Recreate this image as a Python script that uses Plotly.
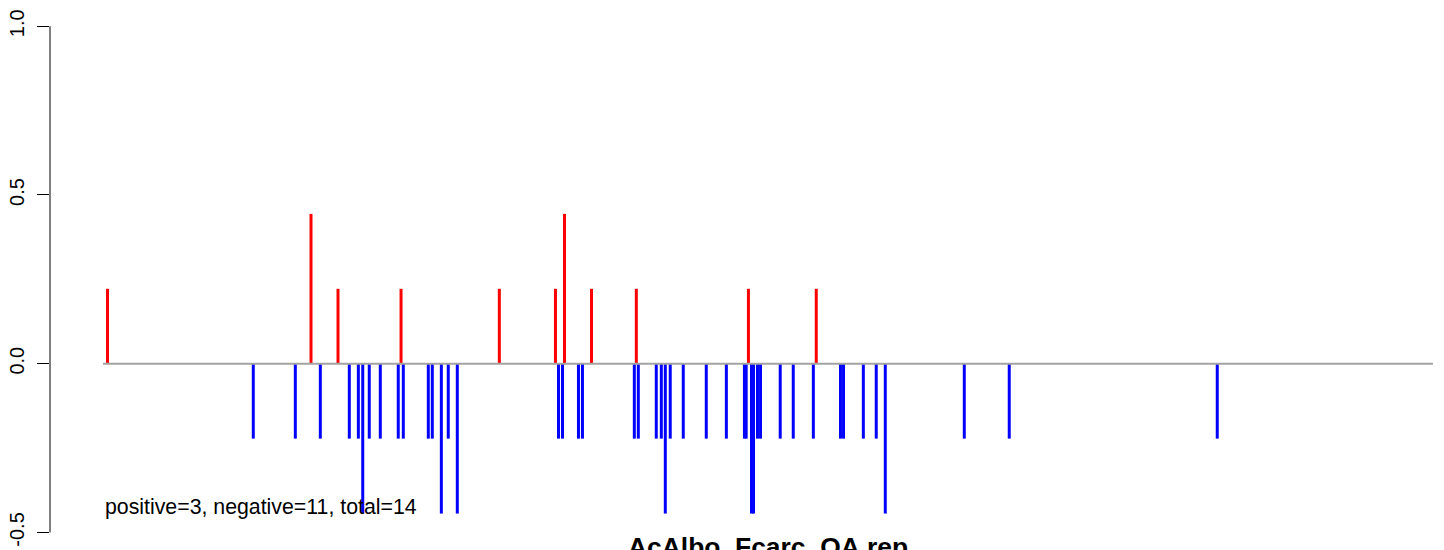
import plotly.graph_objects as go

# Positions along the ranked list (line spans 0..1000) and scores
pos_x = [3.4, 156.4, 176.7, 224.1, 298.0, 340.2, 347.0, 367.3, 401.0, 485.3, 536.3]
pos_y = [0.222, 0.444, 0.222, 0.222, 0.222, 0.222, 0.444, 0.222, 0.222, 0.222, 0.222]

neg_x = [113.0, 144.6, 163.4, 185.2, 192.0, 195.3, 200.2, 208.5, 222.0, 225.8,
         244.6, 247.6, 254.4, 259.6, 266.4, 342.5, 345.5, 357.5, 360.5, 399.5,
         402.5, 416.0, 419.8, 422.8, 426.5, 436.3, 453.6, 468.7, 482.3, 483.6,
         487.6, 489.1, 492.1, 494.4, 509.2, 519.0, 534.1, 554.5, 556.8, 571.7,
         581.4, 588.2, 647.6, 681.4, 837.8]
neg_y = [-0.222, -0.222, -0.222, -0.222, -0.222, -0.444, -0.222, -0.222, -0.222, -0.222,
         -0.222, -0.222, -0.444, -0.222, -0.444, -0.222, -0.222, -0.222, -0.222, -0.222,
         -0.222, -0.222, -0.222, -0.444, -0.222, -0.222, -0.222, -0.222, -0.222, -0.222,
         -0.444, -0.444, -0.222, -0.222, -0.222, -0.222, -0.222, -0.222, -0.222, -0.222,
         -0.222, -0.444, -0.222, -0.222, -0.222]

line_x = [0, 1000]
line_y = [0, 0]

y_tickvals = [-0.5, 0.0, 0.5, 1.0]
y_ticktext = ["-0.5", "0.0", "0.5", "1.0"]

summary_text = "positive=3, negative=11, total=14"
title_text = "AcAlbo_Fcarc_OA.rep"

FONT = "Liberation Sans, Arial, Helvetica, sans-serif"

fig = go.Figure()
fig.add_trace(go.Scatter(x=line_x, y=line_y, mode="lines",
                         line=dict(color="#a3a3a3", width=2), hoverinfo="skip"))
fig.add_trace(go.Bar(x=pos_x, y=pos_y, width=2.25, marker=dict(color="#ff0000", line=dict(width=0))))
fig.add_trace(go.Bar(x=neg_x, y=neg_y, width=2.25, marker=dict(color="#0000ff", line=dict(width=0))))

fig.update_layout(
    width=1436, height=542,
    margin=dict(l=42, r=0, t=0, b=0),
    paper_bgcolor="white", plot_bgcolor="white",
    showlegend=False, barmode="overlay",
    font=dict(family=FONT, color="black"),
    xaxis=dict(range=[-39.85, 1008.3], visible=False, showgrid=False, zeroline=False,
               automargin=False),
    yaxis=dict(range=[-0.552, 1.054], tickvals=y_tickvals, ticktext=y_ticktext,
               tickangle=-90, ticks="outside", ticklen=12, tickwidth=1, tickcolor="black",
               showgrid=False, zeroline=False, showline=False, automargin=False,
               tickfont=dict(size=20, family=FONT, color="black"), ticklabelstandoff=5),
    shapes=[dict(type="line", xref="paper", yref="y", x0=0, x1=0,
                 y0=y_tickvals[0], y1=y_tickvals[-1], line=dict(color="black", width=1))],
    annotations=[
        dict(text=summary_text, xref="x", yref="y", x=0, y=-0.425, xanchor="left", yanchor="middle",
             showarrow=False, font=dict(size=21.3, family=FONT, color="black")),
        dict(text="<b>" + title_text + "</b>", xref="x", yref="paper", x=500, y=0.036,
             xanchor="center", yanchor="top", showarrow=False,
             font=dict(size=26.4, family=FONT, color="black")),
    ],
)

fig.write_html("out.html")
